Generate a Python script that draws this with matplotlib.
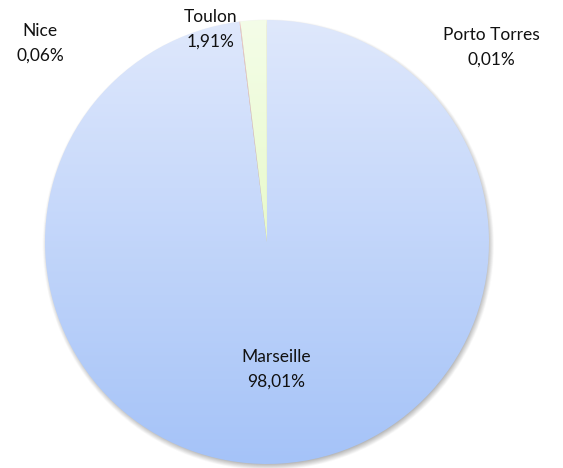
import numpy as np
import matplotlib
matplotlib.use("Agg")
import matplotlib.pyplot as plt
from matplotlib.colors import LinearSegmentedColormap

labels = ["Marseille", "Nice", "Toulon", "Porto Torres"]
values = [98.01, 0.06, 1.91, 0.01]
pct_text = ["98,01%", "0,06%", "1,91%", "0,01%"]

# gradient colours (top -> bottom) per slice
grad_colors = [
    ("#dfe8fc", "#a5c3f8"),
    ("#f6c9c4", "#e89a92"),
    ("#f4fde8", "#dcf6ae"),
    ("#f8e2c0", "#f1c27d"),
]

plt.rcParams['font.family'] = ['Lato', 'DejaVu Sans']

W, H = 563, 468
fig = plt.figure(figsize=(W / 100, H / 100), dpi=100)
ax = fig.add_axes([0, 0, 1, 1])
cx_px, cy_px, r_px = 267, 242, 222
xlim = (-cx_px / r_px, (W - cx_px) / r_px)
ylim = (-(H - cy_px) / r_px, cy_px / r_px)
ax.set_aspect('equal')
ax.axis('off')

# soft shadow
xs = np.linspace(-1.2, 1.2, 600)
ys = np.linspace(-1.2, 1.2, 600)
X, Y = np.meshgrid(xs, ys)
D = np.sqrt((X - 0.004) ** 2 + (Y + 0.012) ** 2)
alpha = np.clip((1.018 - D) / 0.03, 0, 1) * 0.45
shadow = np.zeros((600, 600, 4))
shadow[..., :3] = 0.35
shadow[..., 3] = alpha
ax.imshow(shadow, extent=(-1.2, 1.2, -1.2, 1.2), origin='lower', zorder=0, interpolation='bilinear')

wedges, _ = ax.pie(values, startangle=90, counterclock=False, radius=1,
                   center=(0, 0), wedgeprops=dict(linewidth=0))

grad = np.linspace(0, 1, 256).reshape(-1, 1)
for w, (c_top, c_bot) in zip(wedges, grad_colors):
    w.set_facecolor('none')
    w.set_edgecolor('none')
    cmap = LinearSegmentedColormap.from_list('g', [c_top, c_bot])
    im = ax.imshow(grad, cmap=cmap, extent=(-1, 1, -1, 1), origin='upper',
                   aspect='auto', zorder=1, interpolation='bilinear')
    im.set_clip_path(w)

ax.set_xlim(*xlim)
ax.set_ylim(*ylim)

label_pos = [(0.041, -0.574), (-1.022, 0.894), (-0.252, 0.959), (1.009, 0.876)]
for (lx, ly), name, p in zip(label_pos, labels, pct_text):
    ax.text(lx, ly, f"{name}\n{p}", ha='center', va='center', fontsize=12.5,
            color='#111111', linespacing=1.7, zorder=5)

fig.savefig("out.png", dpi=100)
